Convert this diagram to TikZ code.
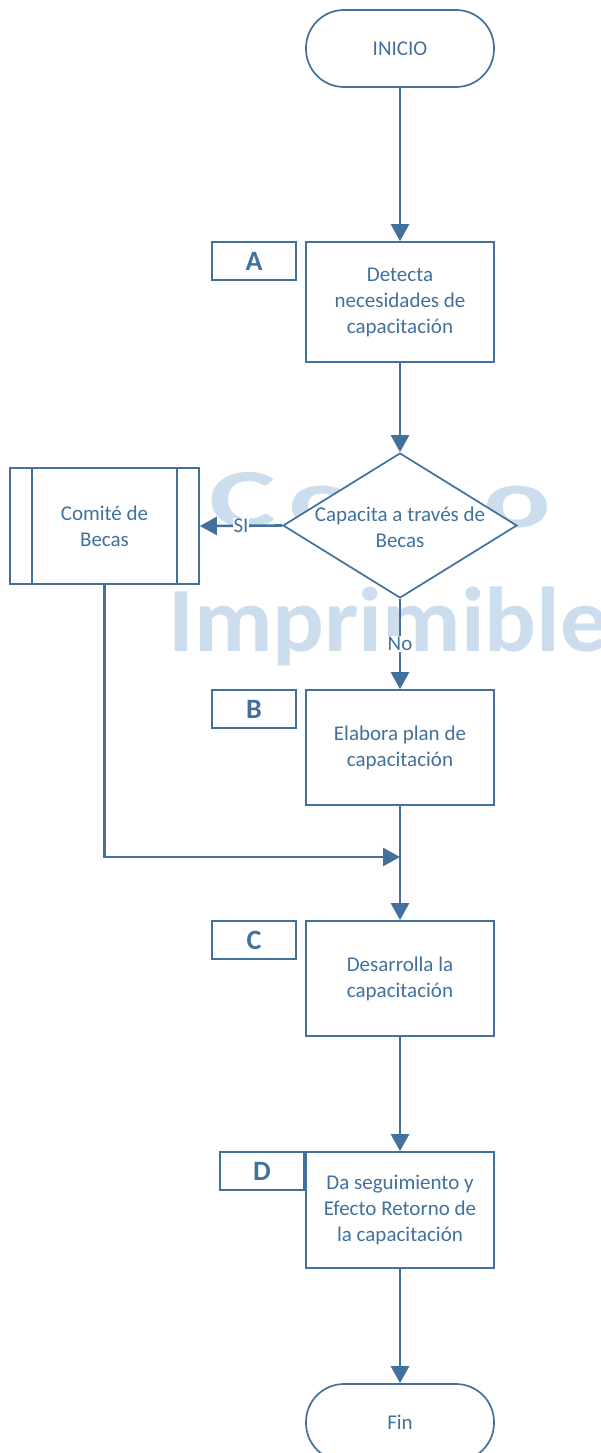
\documentclass[tikz,border=0pt]{standalone}
\usepackage{fontspec}
\setmainfont{Carlito}
\usetikzlibrary{shapes.geometric,arrows.meta}
\definecolor{fc}{HTML}{41719C}
\definecolor{wm}{HTML}{CCDDEE}
\begin{document}
\begin{tikzpicture}[x=1pt,y=-1pt,
  every node/.style={text=fc, font=\fontsize{21}{26}\selectfont, align=center, inner sep=0pt},
  proc/.style={draw=fc, line width=1.7pt, fill=white, minimum width=188pt},
  term/.style={draw=fc, line width=1.7pt, fill=white, rounded corners=38pt, minimum width=188pt, minimum height=77pt},
  tagbox/.style={draw=fc, line width=1.7pt, fill=white, minimum width=84pt, minimum height=38pt, font=\fontsize{28}{30}\selectfont\bfseries},
  dec/.style={draw=fc, line width=1.7pt, fill=white, diamond, minimum width=234pt, minimum height=145pt},
  wmark/.style={text=wm, font=\fontsize{92}{92}\selectfont\bfseries, anchor=base west},
  conn/.style={draw=fc, line width=2.6pt, -{Triangle[width=18pt,length=17pt]}},
  lbl/.style={fill=white, inner sep=1pt}
]
\useasboundingbox (0,0) rectangle (600,1453);
% watermark
\node[wmark, font=\fontsize{84}{84}\selectfont\bfseries, xscale=1.5] (wmA) at (209,527) {\addfontfeature{LetterSpace=10}Como};
\node[wmark, xscale=1.05] (wmB) at (168,651) {Imprimible};
% shapes
\node[term] (inicio) at (400,48.5) {INICIO};
\node[proc, minimum height=120pt] (p1) at (400,302) {Detecta\\necesidades de\\capacitación};
\node[tagbox] (ta) at (254,261) {A};
\node[dec] (d) at (400,525.5) {};
\node (dt) at (400,527) {Capacita a través de\\Becas};
\node[proc, minimum width=189pt, minimum height=116pt] (com) at (104.5,526) {Comité de\\Becas};
\draw[fc, line width=1.7pt] ([xshift=23pt]com.north west) -- ([xshift=23pt]com.south west);
\draw[fc, line width=1.7pt] ([xshift=-23pt]com.north east) -- ([xshift=-23pt]com.south east);
\node[proc, minimum height=115pt] (p2) at (400,747.5) {Elabora plan de\\capacitación};
\node[tagbox] (tb) at (254,709) {B};
\node[proc, minimum height=115pt] (p3) at (400,978.5) {Desarrolla la\\capacitación};
\node[tagbox] (tc) at (254,940) {C};
\node[proc, minimum height=116pt] (p4) at (400,1210) {Da seguimiento y\\Efecto Retorno de\\la capacitación};
\node[tagbox] (td) at (262,1171) {D};
\node[term] (fin) at (400,1422.5) {Fin};
% connectors
\coordinate (merge) at (400,857);
\draw[conn] (inicio) -- (p1);
\draw[conn] (p1) -- (d.north);
\draw[conn] (d.west) -- node[lbl] (si) {SI} (com.east);
\draw[conn] (d.south) -- node[lbl] (no) {No} (p2.north);
\draw[conn] (p2) -- (p3);
\draw[conn] (com.south) |- (merge);
\draw[conn] (p3) -- (p4);
\draw[conn] (p4) -- (fin);
\end{tikzpicture}
\end{document}
